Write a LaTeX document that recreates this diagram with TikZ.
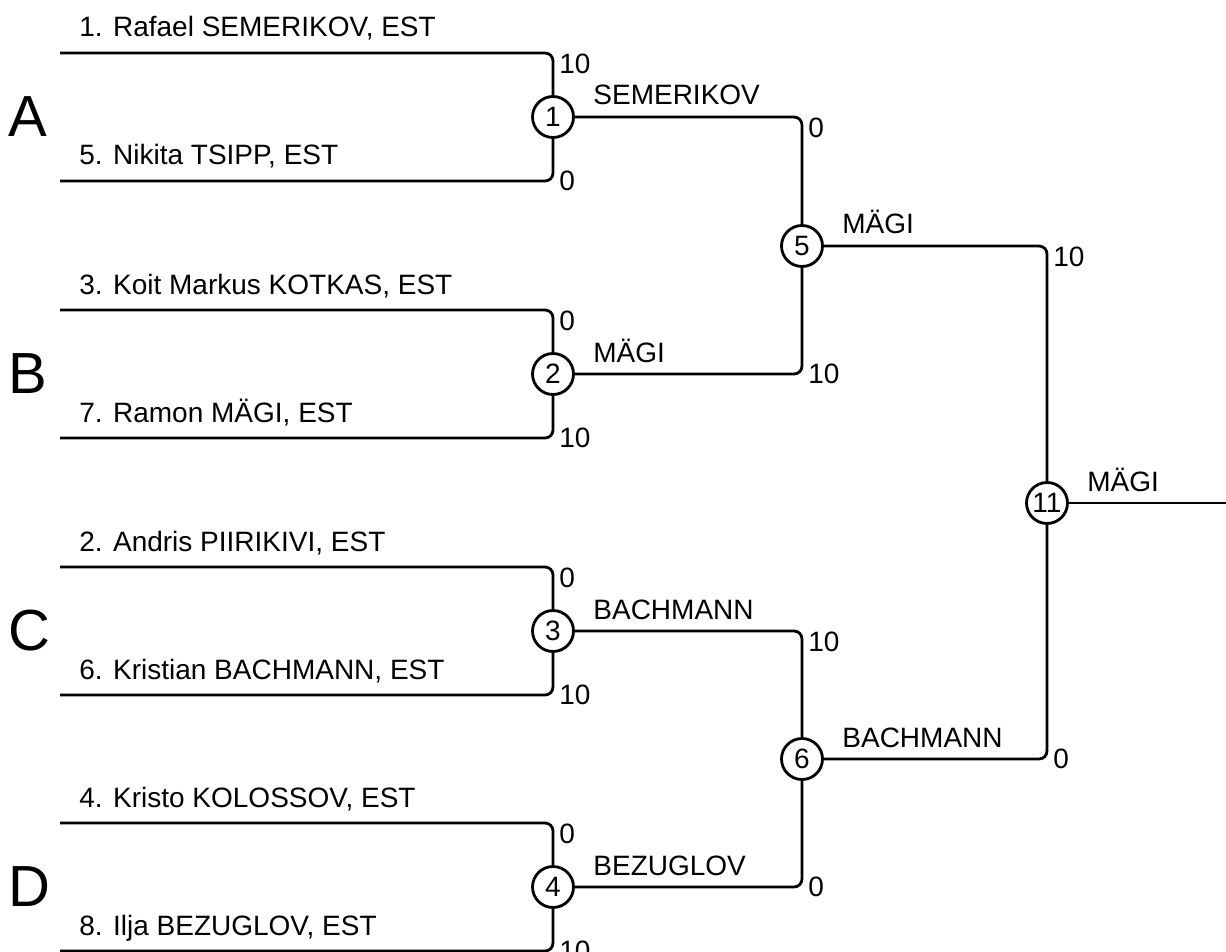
\documentclass[tikz,border=0pt]{standalone}
\usepackage{fontspec}
\setmainfont{Liberation Sans}
\usepackage{tikz}
\usetikzlibrary{positioning}

\begin{document}
\begin{tikzpicture}[x=0.5pt,y=-0.5pt,line width=1.4pt,rounded corners=4pt]

  \tikzstyle{match}  = [circle,draw,fill=white,minimum size=20.5pt,inner sep=0pt,
                        font=\fontsize{14}{14}\selectfont]
  \tikzstyle{player} = [anchor=base west,inner sep=0pt,font=\fontsize{14}{14}\selectfont]
  \tikzstyle{winner} = [anchor=base west,inner sep=0pt,font=\fontsize{14}{14}\selectfont]
  \tikzstyle{hi}     = [anchor=north west,inner sep=0pt,font=\fontsize{14}{14}\selectfont]
  \tikzstyle{lo}     = [anchor=west,inner sep=0pt,font=\fontsize{14}{14}\selectfont]
  \tikzstyle{group}  = [anchor=west,inner sep=0pt,font=\fontsize{29}{29}\selectfont]

  \useasboundingbox (0,0) rectangle (1226,952);

  % start of each line
  \coordinate (p1) at (60,53);
  \coordinate (p5) at (60,181);
  \coordinate (p3) at (60,310);
  \coordinate (p7) at (60,438);
  \coordinate (p2) at (60,567);
  \coordinate (p6) at (60,695);
  \coordinate (p4) at (60,823);
  \coordinate (p8) at (60,951);
  \coordinate (out) at (1226,503);

  % matches
  \node[match] (m1)  at (553,117) {1};
  \node[match] (m2)  at (553,374) {2};
  \node[match] (m3)  at (553,631) {3};
  \node[match] (m4)  at (553,887) {4};
  \node[match] (m5)  at (802,246) {5};
  \node[match] (m6)  at (802,759) {6};
  \node[match] (m11) at (1047,503) {11};

  % groups
  \node[group] (gA) at (7,117) {A};
  \node[group] (gB) at (7,374) {B};
  \node[group] (gC) at (7,631) {C};
  \node[group] (gD) at (7,887) {D};

  % players
  \node[player] (n1) at ([shift={(18,-16)}]p1) {1. Rafael SEMERIKOV, EST};
  \node[player] (n5) at ([shift={(18,-16)}]p5) {5. Nikita TSIPP, EST};
  \node[player] (n3) at ([shift={(18,-16)}]p3) {3. Koit Markus KOTKAS, EST};
  \node[player] (n7) at ([shift={(18,-16)}]p7) {7. Ramon MÄGI, EST};
  \node[player] (n2) at ([shift={(18,-16)}]p2) {2. Andris PIIRIKIVI, EST};
  \node[player] (n6) at ([shift={(18,-16)}]p6) {6. Kristian BACHMANN, EST};
  \node[player] (n4) at ([shift={(18,-16)}]p4) {4. Kristo KOLOSSOV, EST};
  \node[player] (n8) at ([shift={(18,-16)}]p8) {8. Ilja BEZUGLOV, EST};

  % brackets
  \draw (p1) -| (m1);  \draw (p5) -| (m1);
  \draw (p3) -| (m2);  \draw (p7) -| (m2);
  \draw (p2) -| (m3);  \draw (p6) -| (m3);
  \draw (p4) -| (m4);  \draw (p8) -| (m4);
  \draw (m1) -| (m5);  \draw (m2) -| (m5);
  \draw (m3) -| (m6);  \draw (m4) -| (m6);
  \draw (m5) -| (m11); \draw (m6) -| (m11);
  \draw (m11) -- (out);

  % winners
  \node[winner] (w1)  at ([shift={(39,-12)}]m1.center)  {SEMERIKOV};
  \node[winner] (w2)  at ([shift={(39,-12)}]m2.center)  {MÄGI};
  \node[winner] (w3)  at ([shift={(39,-12)}]m3.center)  {BACHMANN};
  \node[winner] (w4)  at ([shift={(39,-12)}]m4.center)  {BEZUGLOV};
  \node[winner] (w5)  at ([shift={(39,-12)}]m5.center)  {MÄGI};
  \node[winner] (w6)  at ([shift={(39,-12)}]m6.center)  {BACHMANN};
  \node[winner] (w11) at ([shift={(39,-12)}]m11.center) {MÄGI};

  % scores
  \node[hi] (s1) at ([shift={(5,0)}]m1 |- p1) {10};
  \node[lo] (s5) at ([shift={(5,0)}]m1 |- p5) {0};
  \node[hi] (s3) at ([shift={(5,0)}]m2 |- p3) {0};
  \node[lo] (s7) at ([shift={(5,0)}]m2 |- p7) {10};
  \node[hi] (s2) at ([shift={(5,0)}]m3 |- p2) {0};
  \node[lo] (s6) at ([shift={(5,0)}]m3 |- p6) {10};
  \node[hi] (s4) at ([shift={(5,0)}]m4 |- p4) {0};
  \node[lo] (s8) at ([shift={(5,0)}]m4 |- p8) {10};
  \node[hi] (t1) at ([shift={(5,0)}]m5 |- m1) {0};
  \node[lo] (t2) at ([shift={(5,0)}]m5 |- m2) {10};
  \node[hi] (t3) at ([shift={(5,0)}]m6 |- m3) {10};
  \node[lo] (t4) at ([shift={(5,0)}]m6 |- m4) {0};
  \node[hi] (f5) at ([shift={(5,0)}]m11 |- m5) {10};
  \node[lo] (f6) at ([shift={(5,0)}]m11 |- m6) {0};
\end{tikzpicture}
\end{document}
